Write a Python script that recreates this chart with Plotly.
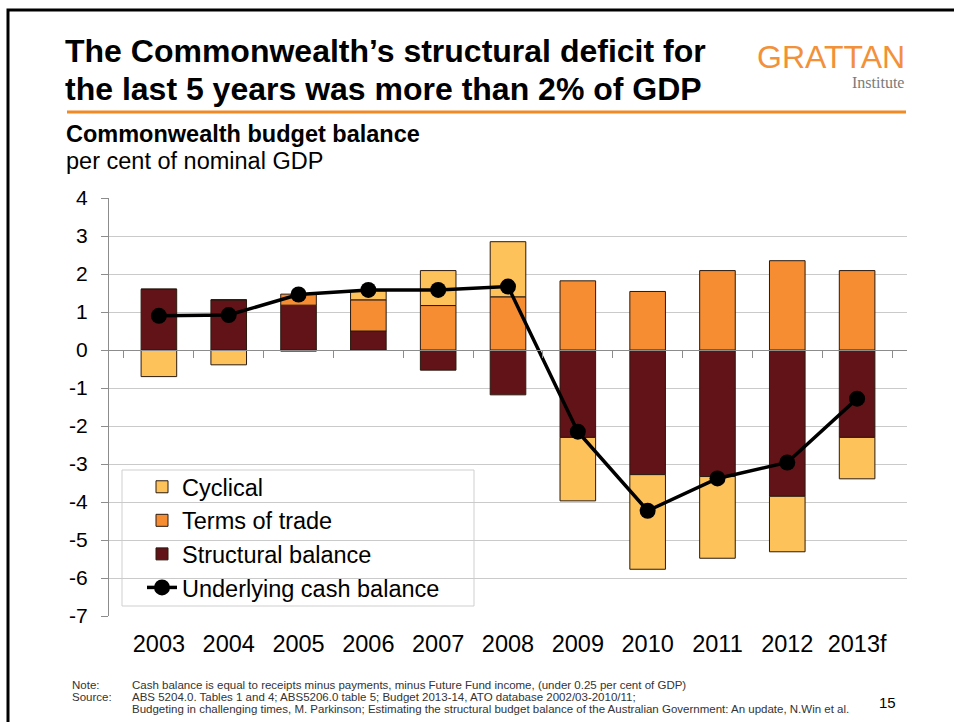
import plotly.graph_objects as go

# === DATA (per cent of nominal GDP) ===
years = ["2003", "2004", "2005", "2006", "2007", "2008", "2009", "2010", "2011", "2012", "2013f"]
structural = [1.60, 1.32, 1.18, 0.50, -0.53, -1.18, -2.30, -3.28, -3.33, -3.85, -2.30]
terms_of_trade = [0.00, 0.00, 0.29, 0.82, 1.17, 1.40, 1.82, 1.54, 2.09, 2.35, 2.09]
cyclical = [-0.70, -0.39, -0.03, 0.24, 0.92, 1.45, -1.67, -2.49, -2.15, -1.46, -1.09]
cash_balance = [0.90, 0.92, 1.46, 1.58, 1.58, 1.67, -2.15, -4.23, -3.38, -2.96, -1.28]

y_ticks = [4, 3, 2, 1, 0, -1, -2, -3, -4, -5, -6, -7]
y_tick_text = ["4", "3", "2", "1", "0", "-1", "-2", "-3", "-4", "-5", "-6", "-7"]

W, H = 954, 722
FONT = "Liberation Sans, Arial, sans-serif"
NARROW = "Liberation Sans Narrow, Arial Narrow, Liberation Sans, sans-serif"


# pixel -> paper helpers (page is the whole paper since margins are 0)
def px(x):
    return x / W


def py(y):
    return 1 - y / H


y_min, y_max = -7, 4
dom_y = [py(616), py(198)]
zero_pos = dom_y[0] + (0 - y_min) / (y_max - y_min) * (dom_y[1] - dom_y[0])

fig = go.Figure()

bar_line = dict(color="#2a1a10", width=1)
fig.add_trace(go.Bar(x=years, y=structural, name="Structural balance",
                     marker=dict(color="#621317", line=bar_line),
                     legendrank=3, legendgroup="c"))
fig.add_trace(go.Bar(x=years, y=terms_of_trade, name="Terms of trade",
                     marker=dict(color="#F68D33", line=bar_line),
                     legendrank=2, legendgroup="b"))
fig.add_trace(go.Bar(x=years, y=cyclical, name="Cyclical",
                     marker=dict(color="#FEC25A", line=bar_line),
                     legendrank=1, legendgroup="a"))
fig.add_trace(go.Scatter(x=years, y=cash_balance, name="Underlying cash balance",
                         mode="lines+markers",
                         line=dict(color="black", width=3.5),
                         marker=dict(color="black", size=16),
                         legendrank=4, legendgroup="d"))
# invisible trace so the zero-line axis (x2) gets drawn
fig.add_trace(go.Scatter(x=years, y=cash_balance, xaxis="x2", mode="lines",
                         line=dict(width=0), opacity=0, showlegend=False,
                         hoverinfo="skip"))

fig.update_layout(
    width=W, height=H,
    margin=dict(l=0, r=0, t=0, b=0, autoexpand=False),
    paper_bgcolor="white", plot_bgcolor="white",
    font=dict(family=FONT, color="black"),
    barmode="relative", bargap=0.49,
    showlegend=True,
    legend=dict(x=px(142), y=py(465), xanchor="left", yanchor="top",
                bgcolor="rgba(0,0,0,0)", borderwidth=0,
                font=dict(size=23.5, family=FONT),
                traceorder="grouped", tracegroupgap=0, itemwidth=30),
    xaxis=dict(domain=[px(109), px(907)], anchor="y", type="category",
               automargin=False,
               showgrid=False, showline=False, zeroline=False,
               ticks="outside", ticklen=7, tickcolor="rgba(0,0,0,0)",
               tickfont=dict(size=23.5, family=FONT)),
    xaxis2=dict(overlaying="x", matches="x", anchor="free", position=zero_pos,
                type="category", showgrid=False, showticklabels=False,
                automargin=False,
                showline=True, linecolor="#8c8c8c", linewidth=1,
                ticks="outside", tickson="boundaries", ticklen=7,
                tickcolor="#8c8c8c"),
    yaxis=dict(domain=dom_y, range=[y_min, y_max],
               tickmode="array", tickvals=y_ticks, ticktext=y_tick_text,
               automargin=False,
               showgrid=True, gridcolor="#cacaca", gridwidth=1,
               zeroline=False, showline=True, linecolor="#8c8c8c",
               ticks="outside", ticklen=7, tickcolor="#8c8c8c",
               ticklabelstandoff=9,
               tickfont=dict(size=21, family=FONT)),
)

shapes = [
    # slide frame
    dict(type="rect", xref="paper", yref="paper", x0=px(8), y0=py(10),
         x1=1.05, y1=-0.05, line=dict(color="black", width=3)),
    # orange rule under the title
    dict(type="line", xref="paper", yref="paper", x0=px(67), x1=px(906),
         y0=py(112), y1=py(112), line=dict(color="#F08A24", width=3)),
    # legend box
    dict(type="rect", xref="paper", yref="paper", x0=px(122), x1=px(474),
         y0=py(470), y1=py(606), line=dict(color="#cfcfcf", width=1),
         fillcolor="white", layer="below"),
]
fig.update_layout(shapes=shapes)

ann = []


def text(x, y, s, size, bold=False, color="black", family=FONT, xanchor="left"):
    ann.append(dict(x=px(x), y=py(y), xref="paper", yref="paper", text=s,
                    showarrow=False, xanchor=xanchor, yanchor="middle",
                    font=dict(size=size, color=color, family=family,
                              weight="bold" if bold else "normal")))


text(63, 51, "The Commonwealth’s structural deficit for", 32, bold=True)
text(63, 89, "the last 5 years was more than 2% of GDP", 32, bold=True)
text(907, 57, "GRATTAN", 32, color="#F2913A", xanchor="right")
text(906, 82, "Institute", 16, color="#7a7a7a",
     family="Liberation Serif, Times New Roman, serif", xanchor="right")
text(64, 134, "Commonwealth budget balance", 23.5, bold=True)
text(64, 161, "per cent of nominal GDP", 23.5)

fn = 11.5
text(70, 685, "Note:", fn, color="#333333", family=NARROW)
text(70, 697, "Source:", fn, color="#333333", family=NARROW)
text(130, 685, "Cash balance is equal to receipts minus payments, minus Future Fund income, "
               "(under 0.25 per cent of GDP)", fn, color="#333333", family=NARROW)
text(130, 697, "ABS 5204.0. Tables 1 and 4; ABS5206.0 table 5; Budget 2013-14, "
               "ATO database 2002/03-2010/11;", fn, color="#333333", family=NARROW)
text(130, 709, "Budgeting in challenging times, M. Parkinson; Estimating the structural budget "
               "balance of the Australian Government: An update, N.Win et al.", fn,
     color="#333333", family=NARROW)
text(898, 702, "15", 15, family=NARROW, xanchor="right")

fig.update_layout(annotations=ann)

fig.write_html("out.html", config={"displayModeBar": False},
               post_script="document.body.style.margin='0';")
